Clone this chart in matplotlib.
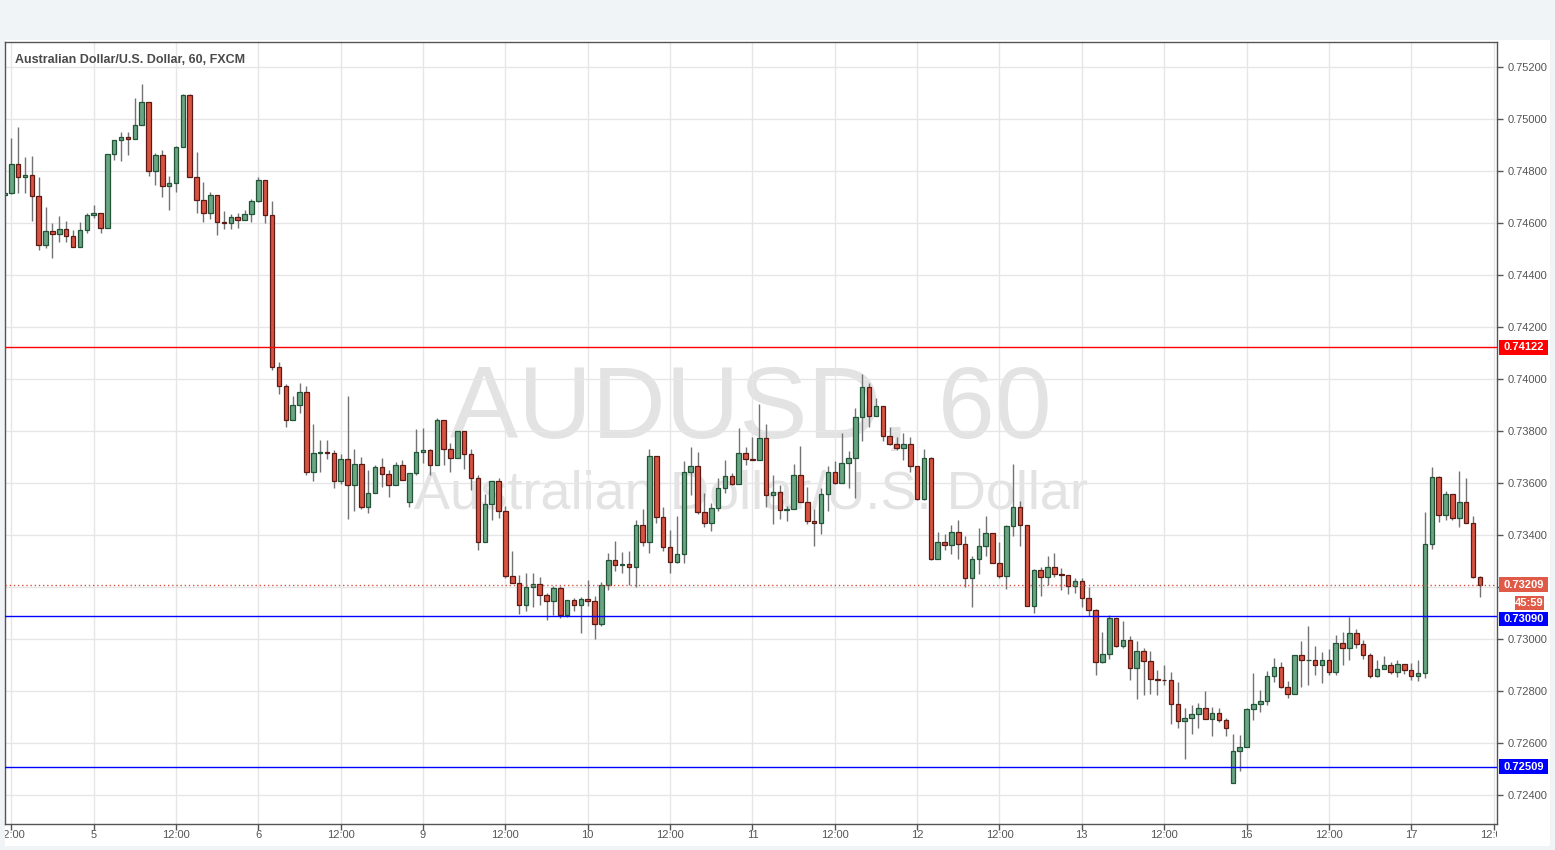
import numpy as np
import matplotlib
matplotlib.use("Agg")
import matplotlib.pyplot as plt
from matplotlib.patches import Rectangle
from matplotlib.transforms import Bbox, TransformedBbox, blended_transform_factory

plt.rcParams['font.family'] = ['Liberation Sans', 'DejaVu Sans']

# hourly AUD/USD candles, first one is 11:00 on the 4th (partly hidden)
opens = [
    0.74708, 0.74714, 0.74826, 0.74776, 0.74785, 0.74703, 0.74514, 0.74568, 0.74557, 0.74576, 0.74549, 0.74507,
    0.74572, 0.74630, 0.74637, 0.74580, 0.74864, 0.74918, 0.74930, 0.74925, 0.74976, 0.75064, 0.74799, 0.74861,
    0.74741, 0.74753, 0.74891, 0.75091, 0.74776, 0.74687, 0.74637, 0.74707, 0.74603, 0.74599, 0.74622, 0.74610,
    0.74633, 0.74683, 0.74764, 0.74630, 0.74045, 0.73972, 0.73841, 0.73899, 0.73949, 0.73641, 0.73714, 0.73718,
    0.73714, 0.73607, 0.73691, 0.73591, 0.73672, 0.73507, 0.73560, 0.73660, 0.73633, 0.73591, 0.73668, 0.73526,
    0.73637, 0.73718, 0.73726, 0.73668, 0.73841, 0.73730, 0.73695, 0.73799, 0.73711, 0.73618, 0.73372, 0.73518,
    0.73607, 0.73491, 0.73241, 0.73214, 0.73130, 0.73199, 0.73210, 0.73168, 0.73145, 0.73195, 0.73091, 0.73149,
    0.73130, 0.73153, 0.73145, 0.73057, 0.73207, 0.73303, 0.73284, 0.73288, 0.73276, 0.73437, 0.73372, 0.73703,
    0.73468, 0.73353, 0.73295, 0.73326, 0.73641, 0.73664, 0.73487, 0.73445, 0.73503, 0.73580, 0.73626, 0.73595,
    0.73714, 0.73691, 0.73688, 0.73772, 0.73553, 0.73564, 0.73495, 0.73499, 0.73630, 0.73526, 0.73453, 0.73445,
    0.73557, 0.73641, 0.73599, 0.73676, 0.73695, 0.73853, 0.73968, 0.73857, 0.73895, 0.73780, 0.73749, 0.73734,
    0.73749, 0.73664, 0.73537, 0.73695, 0.73307, 0.73372, 0.73361, 0.73410, 0.73364, 0.73234, 0.73307, 0.73357,
    0.73407, 0.73291, 0.73241, 0.73433, 0.73507, 0.73437, 0.73126, 0.73264, 0.73237, 0.73276, 0.73249, 0.73245,
    0.73203, 0.73222, 0.73157, 0.73111, 0.72910, 0.72941, 0.73080, 0.72972, 0.72995, 0.72887, 0.72953, 0.72914,
    0.72845, 0.72843, 0.72841, 0.72749, 0.72684, 0.72695, 0.72711, 0.72734, 0.72691, 0.72714, 0.72688, 0.72445,
    0.72568, 0.72584, 0.72730, 0.72749, 0.72760, 0.72857, 0.72891, 0.72814, 0.72787, 0.72937, 0.72918, 0.72920,
    0.72899, 0.72918, 0.72872, 0.72983, 0.72964, 0.73022, 0.72980, 0.72937, 0.72857, 0.72883, 0.72899, 0.72872,
    0.72903, 0.72880, 0.72857, 0.72868, 0.73364, 0.73622, 0.73476, 0.73557, 0.73464, 0.73526, 0.73445, 0.73237,
]
highs = [
    0.74730, 0.74928, 0.74969, 0.74854, 0.74858, 0.74777, 0.74662, 0.74600, 0.74627, 0.74608, 0.74573, 0.74604,
    0.74638, 0.74669, 0.74637, 0.74864, 0.74920, 0.74950, 0.74950, 0.75081, 0.75135, 0.75064, 0.74868, 0.74880,
    0.74780, 0.74896, 0.75096, 0.75096, 0.74873, 0.74758, 0.74719, 0.74707, 0.74646, 0.74635, 0.74638, 0.74650,
    0.74692, 0.74777, 0.74764, 0.74685, 0.74064, 0.73980, 0.73933, 0.73983, 0.73972, 0.73826, 0.73764, 0.73764,
    0.73727, 0.73710, 0.73933, 0.73730, 0.73699, 0.73649, 0.73668, 0.73695, 0.73649, 0.73680, 0.73687, 0.73637,
    0.73806, 0.73810, 0.73730, 0.73849, 0.73841, 0.73753, 0.73799, 0.73799, 0.73730, 0.73630, 0.73557, 0.73607,
    0.73618, 0.73510, 0.73337, 0.73245, 0.73253, 0.73253, 0.73237, 0.73176, 0.73203, 0.73203, 0.73149, 0.73157,
    0.73161, 0.73226, 0.73164, 0.73219, 0.73330, 0.73376, 0.73334, 0.73337, 0.73457, 0.73500, 0.73730, 0.73703,
    0.73507, 0.73418, 0.73472, 0.73684, 0.73737, 0.73718, 0.73560, 0.73522, 0.73618, 0.73687, 0.73637, 0.73810,
    0.73737, 0.73776, 0.73903, 0.73826, 0.73630, 0.73591, 0.73510, 0.73672, 0.73741, 0.73583, 0.73499, 0.73580,
    0.73664, 0.73684, 0.73791, 0.73722, 0.73887, 0.74018, 0.73983, 0.73926, 0.73895, 0.73814, 0.73776, 0.73791,
    0.73776, 0.73664, 0.73730, 0.73699, 0.73410, 0.73403, 0.73437, 0.73457, 0.73395, 0.73318, 0.73426, 0.73472,
    0.73407, 0.73372, 0.73437, 0.73672, 0.73530, 0.73437, 0.73268, 0.73276, 0.73318, 0.73330, 0.73272, 0.73245,
    0.73233, 0.73233, 0.73199, 0.73115, 0.73026, 0.73091, 0.73080, 0.73068, 0.73010, 0.72991, 0.72964, 0.72953,
    0.72880, 0.72899, 0.72872, 0.72833, 0.72735, 0.72745, 0.72753, 0.72799, 0.72738, 0.72734, 0.72695, 0.72633,
    0.72630, 0.72734, 0.72868, 0.72804, 0.72876, 0.72926, 0.72910, 0.72837, 0.72937, 0.72991, 0.73049, 0.72972,
    0.72949, 0.72960, 0.73014, 0.73026, 0.73084, 0.73037, 0.72995, 0.72945, 0.72918, 0.72933, 0.72910, 0.72918,
    0.72903, 0.72907, 0.72918, 0.73490, 0.73660, 0.73626, 0.73568, 0.73557, 0.73645, 0.73618, 0.73472, 0.73241,
]
lows = [
    0.74700, 0.74710, 0.74717, 0.74717, 0.74609, 0.74497, 0.74505, 0.74467, 0.74528, 0.74528, 0.74507, 0.74507,
    0.74563, 0.74618, 0.74563, 0.74580, 0.74843, 0.74840, 0.74863, 0.74925, 0.74976, 0.74782, 0.74747, 0.74701,
    0.74651, 0.74720, 0.74891, 0.74776, 0.74640, 0.74605, 0.74617, 0.74555, 0.74578, 0.74578, 0.74582, 0.74610,
    0.74605, 0.74682, 0.74601, 0.74035, 0.73941, 0.73817, 0.73841, 0.73870, 0.73630, 0.73607, 0.73641, 0.73691,
    0.73580, 0.73596, 0.73460, 0.73493, 0.73499, 0.73484, 0.73560, 0.73583, 0.73545, 0.73591, 0.73610, 0.73507,
    0.73630, 0.73676, 0.73630, 0.73668, 0.73668, 0.73641, 0.73695, 0.73653, 0.73572, 0.73341, 0.73372, 0.73457,
    0.73464, 0.73233, 0.73214, 0.73095, 0.73107, 0.73122, 0.73130, 0.73072, 0.73091, 0.73080, 0.73084, 0.73107,
    0.73022, 0.73126, 0.72999, 0.73050, 0.73188, 0.73260, 0.73253, 0.73207, 0.73199, 0.73357, 0.73330, 0.73445,
    0.73337, 0.73253, 0.73291, 0.73291, 0.73553, 0.73480, 0.73430, 0.73414, 0.73491, 0.73560, 0.73591, 0.73595,
    0.73668, 0.73687, 0.73687, 0.73507, 0.73441, 0.73460, 0.73453, 0.73499, 0.73526, 0.73441, 0.73357, 0.73403,
    0.73491, 0.73595, 0.73599, 0.73580, 0.73541, 0.73760, 0.73814, 0.73857, 0.73760, 0.73745, 0.73726, 0.73687,
    0.73641, 0.73536, 0.73536, 0.73303, 0.73307, 0.73341, 0.73326, 0.73307, 0.73199, 0.73122, 0.73249, 0.73318,
    0.73291, 0.73233, 0.73191, 0.73395, 0.73357, 0.73126, 0.73099, 0.73164, 0.73207, 0.73237, 0.73187, 0.73172,
    0.73176, 0.73122, 0.73088, 0.72863, 0.72907, 0.72924, 0.72968, 0.72964, 0.72841, 0.72768, 0.72783, 0.72787,
    0.72783, 0.72822, 0.72672, 0.72657, 0.72537, 0.72634, 0.72657, 0.72691, 0.72626, 0.72680, 0.72626, 0.72445,
    0.72491, 0.72584, 0.72688, 0.72720, 0.72746, 0.72833, 0.72810, 0.72775, 0.72787, 0.72814, 0.72822, 0.72860,
    0.72830, 0.72860, 0.72860, 0.72899, 0.72918, 0.72964, 0.72922, 0.72849, 0.72853, 0.72883, 0.72864, 0.72853,
    0.72864, 0.72841, 0.72838, 0.72849, 0.73345, 0.73449, 0.73457, 0.73457, 0.73430, 0.73445, 0.73233, 0.73160,
]
closes = [
    0.74714, 0.74826, 0.74776, 0.74785, 0.74703, 0.74514, 0.74568, 0.74557, 0.74576, 0.74549, 0.74507, 0.74572,
    0.74630, 0.74637, 0.74580, 0.74864, 0.74918, 0.74930, 0.74925, 0.74976, 0.75064, 0.74799, 0.74861, 0.74741,
    0.74753, 0.74891, 0.75091, 0.74776, 0.74687, 0.74637, 0.74707, 0.74603, 0.74599, 0.74622, 0.74610, 0.74633,
    0.74683, 0.74764, 0.74630, 0.74045, 0.73972, 0.73841, 0.73899, 0.73949, 0.73641, 0.73714, 0.73718, 0.73714,
    0.73607, 0.73691, 0.73591, 0.73672, 0.73507, 0.73560, 0.73660, 0.73633, 0.73591, 0.73668, 0.73610, 0.73637,
    0.73718, 0.73726, 0.73668, 0.73841, 0.73730, 0.73695, 0.73799, 0.73711, 0.73618, 0.73372, 0.73518, 0.73607,
    0.73491, 0.73241, 0.73214, 0.73130, 0.73199, 0.73210, 0.73168, 0.73145, 0.73195, 0.73091, 0.73149, 0.73130,
    0.73153, 0.73145, 0.73057, 0.73207, 0.73303, 0.73284, 0.73288, 0.73276, 0.73437, 0.73372, 0.73703, 0.73468,
    0.73353, 0.73295, 0.73326, 0.73641, 0.73664, 0.73487, 0.73445, 0.73503, 0.73580, 0.73626, 0.73595, 0.73714,
    0.73691, 0.73688, 0.73772, 0.73553, 0.73564, 0.73495, 0.73499, 0.73630, 0.73526, 0.73453, 0.73445, 0.73557,
    0.73641, 0.73599, 0.73676, 0.73695, 0.73853, 0.73968, 0.73857, 0.73895, 0.73780, 0.73749, 0.73734, 0.73749,
    0.73664, 0.73537, 0.73695, 0.73307, 0.73372, 0.73361, 0.73410, 0.73364, 0.73234, 0.73307, 0.73357, 0.73407,
    0.73291, 0.73241, 0.73433, 0.73507, 0.73437, 0.73126, 0.73264, 0.73237, 0.73276, 0.73249, 0.73245, 0.73203,
    0.73222, 0.73157, 0.73111, 0.72910, 0.72941, 0.73080, 0.72972, 0.72995, 0.72887, 0.72953, 0.72914, 0.72845,
    0.72843, 0.72841, 0.72749, 0.72684, 0.72695, 0.72711, 0.72734, 0.72691, 0.72714, 0.72688, 0.72657, 0.72568,
    0.72584, 0.72730, 0.72749, 0.72760, 0.72857, 0.72891, 0.72814, 0.72787, 0.72937, 0.72918, 0.72920, 0.72899,
    0.72918, 0.72872, 0.72983, 0.72964, 0.73022, 0.72980, 0.72937, 0.72857, 0.72883, 0.72899, 0.72872, 0.72903,
    0.72880, 0.72857, 0.72868, 0.73364, 0.73622, 0.73476, 0.73557, 0.73464, 0.73526, 0.73445, 0.73237, 0.73209,
]

time_labels = ['12:00', '5', '12:00', '6', '12:00', '9', '12:00', '10', '12:00', '11',
               '12:00', '12', '12:00', '13', '12:00', '16', '12:00', '17', '12:00']
level_lines = [0.74122, 0.73090, 0.72509]
level_colors = ['#ff0000', '#0000ff', '#0000ff']
last_price = 0.73209
countdown = '45:59'

W, H = 1555, 850
fig = plt.figure(figsize=(W / 100, H / 100), dpi=100, facecolor='#f1f4f7')
# white chart panel behind the axes
fig.patches.append(Rectangle((5 / W, 1 - 846 / H), 1545 / W, 806 / H, transform=fig.transFigure,
                             facecolor='white', edgecolor='none', zorder=-5))
ax = fig.add_axes([5 / W, 1 - 824 / H, 1492 / W, 782 / H])
ax.set_zorder(1)
ax.set_facecolor('white')

o = np.array(opens)
h = np.array(highs)
l = np.array(lows)
c = np.array(closes)
x = np.arange(len(c)) - 1
up = c >= o

ax.vlines(x, l, h, color='#737375', linewidth=1, zorder=3)
ax.bar(x, np.abs(c - o), bottom=np.minimum(o, c), width=0.66,
       color=np.where(up, '#6ba583', '#d75442'),
       edgecolor=np.where(up, '#225437', '#5b1a13'), linewidth=0.9, zorder=4)

for lvl, col in zip(level_lines, level_colors):
    ax.axhline(lvl, color=col, linewidth=1, zorder=5)
ax.axhline(last_price, color='#d75442', linewidth=1, linestyle=(0, (1, 2)), zorder=5)

# watermark
ax.text(0.5, 0.4936, 'AUDUSD, 60', transform=ax.transAxes, ha='center', va='baseline',
        fontsize=73.5, color='#e3e3e3', zorder=0)
ax.text(0.5, 0.404, 'Australian Dollar/U.S. Dollar', transform=ax.transAxes, ha='center',
        va='baseline', fontsize=39, color='#e3e3e3', zorder=0)

ax.set_xlim(-0.918, 216.5)
ax.set_ylim(0.722885, 0.752962)

ax.set_yticks(np.arange(0.724, 0.7521, 0.002))
# the 0.73200 label sits under the last-price tag
ax.yaxis.set_major_formatter(plt.FuncFormatter(
    lambda v, p: '' if abs(v - 0.732) < 1e-6 else f'{v:.5f}'))
ax.yaxis.tick_right()
ax.tick_params(axis='y', direction='out', length=4, width=1, colors='#555555',
               labelsize=8, pad=4, labelcolor='#555555')

xt = np.arange(0, 217, 12)
ax.set_xticks(xt)
ax.set_xticklabels([])
ax.tick_params(axis='x', direction='out', length=4, width=1, colors='#555555')
ax.grid(True, color='#e6e6e6', linewidth=1, zorder=1)
ax.set_axisbelow(True)
for s in ax.spines.values():
    s.set_color('#555555')
    s.set_linewidth(1)

clip = TransformedBbox(Bbox([[5 / W, 0], [1497 / W, 1]]), fig.transFigure)
xtrans = blended_transform_factory(ax.transData, ax.transAxes)
for pos, lab in zip(xt, time_labels):
    t = ax.text(pos, -0.0135, lab, transform=xtrans, ha='center', va='center',
                fontsize=8, color='#555555', clip_on=True)
    t.set_clip_box(clip)

# price tags on the right
ytrans = ax.get_yaxis_transform()
tag_h = 14.5 / 26000


def price_tag(yc, text, color, x0=1.0013, w=0.0328):
    ax.add_patch(Rectangle((x0, yc - tag_h / 2), w, tag_h, transform=ytrans,
                           facecolor=color, edgecolor='none', clip_on=False, zorder=6))
    ax.text(x0 + w / 2, yc, text, transform=ytrans, ha='center', va='center',
            fontsize=8, fontweight='bold', color='white', clip_on=False, zorder=7)


price_tag(level_lines[0], f'{level_lines[0]:.5f}', '#ff0000')
price_tag(last_price, f'{last_price:.5f}', '#df5a47')
price_tag(0.731385, countdown, '#df5a47', x0=1.0121, w=0.0194)
price_tag(0.730777, f'{level_lines[1]:.5f}', '#0000ff')
price_tag(level_lines[2], f'{level_lines[2]:.5f}', '#0000ff')

fig.text(15 / W, 1 - 60 / H, 'Australian Dollar/U.S. Dollar, 60, FXCM', ha='left', va='center',
         fontsize=9, fontweight='bold', color='#4a4a4a')

fig.savefig('out.png', dpi=100, facecolor=fig.get_facecolor())
